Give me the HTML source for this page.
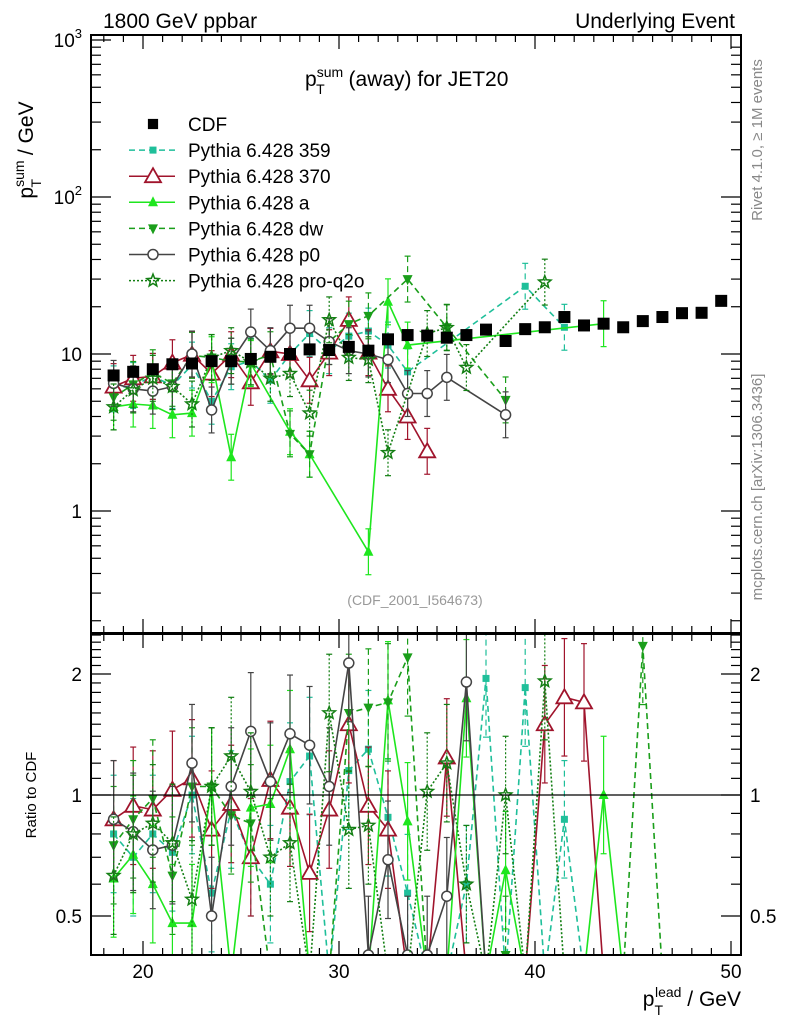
<!DOCTYPE html>
<html><head><meta charset="utf-8">
<style>
html,body{margin:0;padding:0;background:#fff;overflow:hidden;width:786px;height:1024px;}
svg{display:block;font-family:"Liberation Sans",Arial,sans-serif;}
</style></head>
<body>
<svg id="chart" width="786" height="1024" viewBox="0 0 786 1024" xmlns="http://www.w3.org/2000/svg">
<rect x="0" y="0" width="786" height="1024" fill="#fff"/>
<text x="103" y="28" font-size="21">1800 GeV ppbar</text>
<text x="735" y="28" font-size="21" text-anchor="end">Underlying Event</text>
<text x="305" y="86" font-size="21">p<tspan dy="-9" font-size="14">sum</tspan><tspan dx="-27" dy="17" font-size="14">T</tspan><tspan dx="18" dy="-8"> (away) for JET20</tspan></text>
<g transform="translate(33,150) rotate(-90)"><text x="0" y="0" font-size="21" text-anchor="middle">p<tspan dy="-9" font-size="14">sum</tspan><tspan dx="-27" dy="17" font-size="14">T</tspan><tspan dx="18" dy="-8"> / GeV</tspan></text></g>
<g transform="translate(36,795) rotate(-90)"><text x="0" y="0" font-size="15" text-anchor="middle">Ratio to CDF</text></g>
<text x="741" y="1006" font-size="21" text-anchor="end">p<tspan dy="9" font-size="14">T</tspan><tspan dx="-8" dy="-18" font-size="14">lead</tspan><tspan dy="9"> / GeV</tspan></text>
<g transform="translate(762,140) rotate(-90)"><text x="0" y="0" font-size="15" fill="#888" text-anchor="middle">Rivet 4.1.0, ≥ 1M events</text></g>
<g transform="translate(762,487) rotate(-90)"><text x="0" y="0" font-size="15" fill="#888" text-anchor="middle">mcplots.cern.ch [arXiv:1306.3436]</text></g>
<text x="415" y="605" font-size="14" fill="#999" text-anchor="middle">(CDF_2001_I564673)</text>
<defs>
<clipPath id="cm"><rect x="91" y="35" width="650" height="598"/></clipPath>
<clipPath id="cr"><rect x="91" y="634" width="650" height="321"/></clipPath>
</defs>
<g id="main" clip-path="url(#cm)"></g>
<g id="ratio" clip-path="url(#cr)"></g>
<g id="axes"></g>
<g id="legend"></g>
</svg>
<script>
const bins = [18.5,19.5,20.5,21.5,22.5,23.5,24.5,25.5,26.5,27.5,28.5,29.5,30.5,31.5,32.5,33.5,34.5,35.5,36.5,37.5,38.5,39.5,40.5,41.5,42.5,43.5,44.5,45.5,46.5,47.5,48.5,49.5];
const cdf = [7.3,7.7,8.0,8.6,8.7,9.0,9.0,9.3,9.6,10.0,10.7,10.6,11.1,10.5,12.4,13.2,13.1,12.7,13.2,14.3,12.1,14.4,14.8,17.2,15.2,15.6,14.8,16.2,17.2,18.2,18.3,21.8];
const p359 = [6.0,6.3,7.2,6.3,8.5,5.0,8.3,9.0,6.8,10.0,13.5,10.5,13.0,14.0,11.4,7.7,null,null,null,null,null,27,null,14.8];
const p370 = [6.2,7.0,7.2,8.8,9.9,7.5,9.9,6.6,10.4,10.0,6.8,10.2,16.5,10.2,6.0,4.0,2.4];
const pa = [4.6,4.8,4.7,4.1,4.2,9.2,2.2,8.7,null,3.2,2.3,null,null,0.55,21.5,11.4,null,null,null,null,null,null,null,null,null,15.6];
const pdw = [5.3,6.4,7.6,6.5,9.8,9.5,9.0,8.9,9.9,3.1,2.3,12,15.5,17.5,null,30,null,14.8,null,null,5.1];
const pp0 = [6.5,6.0,5.8,6.2,10.0,4.4,9.0,13.8,10.5,14.6,14.6,12.0,10.5,10.0,9.2,5.6,5.6,7.1,null,null,4.1];
const pq2o = [4.6,5.9,7.0,6.2,4.8,9.5,10.5,8.9,7.0,7.5,4.2,16.5,9.5,9.2,2.35,null,13.5,14.7,8.2,null,null,null,28.7];
const r359 = [0.8,0.7,0.8,0.72,1.0,0.57,0.92,0.7,0.6,1.08,1.25,0,1.15,1.3,0.88,0.57,0,0,0.6,1.95,0,1.85,0,0.87,0];
const r370 = [0.87,0.94,0.92,1.03,1.1,0.82,0.95,0.7,1.09,0.93,0.64,0.92,1.5,0.94,0.82,0,0,1.24,0,0,0,0,1.5,1.75,1.7,0];
const ra = [0.62,0.71,0.6,0.48,0.48,1.05,0,0.93,0.95,1.3,0,0,0,0,1.72,0.86,0,0,1.74,0,0.65,0,0,0,0,1.0,0];
const rdw = [0.75,0.87,0.98,0.63,1.05,1.05,0.89,0.85,0,0,0,0,1.6,1.65,1.7,2.2,0,0,0,0,0.4,0,0,0,0,0,0,2.35,0];
const rp0 = [0.87,0.81,0.73,0.75,1.2,0.5,1.05,1.44,1.08,1.42,1.33,1.05,2.13,0.4,0.69,0.4,0.4,0.56,1.91,0];
const rq2o = [0.63,0.8,0.85,0.76,0.55,1.05,1.25,1.02,0.7,0.76,0,1.6,0.82,0.84,0,0,1.02,1.2,0.6,0,1.0,0,1.92,0];
const xTicks = [20,30,40,50];
const yMainTicks = [1,10,100,1000];
const yRatioTicks = [0.5,1,2];

const NS="http://www.w3.org/2000/svg";
const L=91,R=741,T=35,MB=633,RT=634,RB=955;
const X=v=>143+(v-20)*19.6;
const YM=v=>354-157*Math.log10(v/10);
const YR=v=>v<=0?975:Math.min(975,795-121*Math.log2(v));
function mk(tag,attrs,parent){const e=document.createElementNS(NS,tag);for(const k in attrs)e.setAttribute(k,attrs[k]);parent.appendChild(e);return e;}
const gM=document.getElementById('main'),gR=document.getElementById('ratio'),gA=document.getElementById('axes'),gL=document.getElementById('legend');

function marker(kind,x,y,col,p,sc){
  sc=sc||1;let e;
  if(kind==='sq'){e=mk('rect',{x:x-6*sc,y:y-6*sc,width:12*sc,height:12*sc,fill:col},p);}
  else if(kind==='ssq'){e=mk('rect',{x:x-3.5,y:y-3.5,width:7,height:7,fill:col},p);}
  else if(kind==='otri'){e=mk('polygon',{points:`${x},${y-8} ${x-8},${y+6} ${x+8},${y+6}`,fill:'#fff',stroke:col,'stroke-width':1.8},p);}
  else if(kind==='tri'){e=mk('polygon',{points:`${x},${y-6} ${x-5},${y+4} ${x+5},${y+4}`,fill:col},p);}
  else if(kind==='dtri'){e=mk('polygon',{points:`${x},${y+6} ${x-5},${y-4} ${x+5},${y-4}`,fill:col},p);}
  else if(kind==='circ'){e=mk('circle',{cx:x,cy:y,r:5,fill:'#fff',stroke:col,'stroke-width':1.5},p);}
  else if(kind==='star'){let pts=[];for(let i=0;i<10;i++){const r=i%2?2.8:6.5,a=-Math.PI/2+i*Math.PI/5;pts.push((x+r*Math.cos(a)).toFixed(1)+','+(y+r*Math.sin(a)).toFixed(1));}
    e=mk('polygon',{points:pts.join(' '),fill:'none',stroke:col,'stroke-width':1.5},p);}
  return e;
}
function errbar(x,y1,y2,col,dash,p){
  y1=Math.max(0,Math.min(975,y1));y2=Math.max(0,Math.min(975,y2));
  mk('line',{x1:x,x2:x,y1:y1,y2:y2,stroke:col,'stroke-width':1.2,'stroke-dasharray':dash},p);
  mk('line',{x1:x-3,x2:x+3,y1:y1,y2:y1,stroke:col,'stroke-width':1.2},p);
  mk('line',{x1:x-3,x2:x+3,y1:y2,y2:y2,stroke:col,'stroke-width':1.2},p);
}
const series=[
 {name:'pythia-359',label:'Pythia 6.428 359',col:'#1fbf9a',dash:'6,4',m:'ssq',main:p359,ratio:r359},
 {name:'pythia-370',label:'Pythia 6.428 370',col:'#a0142c',dash:'',m:'otri',main:p370,ratio:r370},
 {name:'pythia-a',label:'Pythia 6.428 a',col:'#1ee61e',dash:'',m:'tri',main:pa,ratio:ra},
 {name:'pythia-dw',label:'Pythia 6.428 dw',col:'#1a9e1a',dash:'6,4',m:'dtri',main:pdw,ratio:rdw},
 {name:'pythia-p0',label:'Pythia 6.428 p0',col:'#444',dash:'',m:'circ',main:pp0,ratio:rp0},
 {name:'pythia-pro-q2o',label:'Pythia 6.428 pro-q2o',col:'#137f13',dash:'2,2',m:'star',main:pq2o,ratio:rq2o}
];
series.forEach(s=>{
  const gm=mk('g',{},gM);
  
  
  let d='',first=true;
  s.main.forEach((v,i)=>{if(v==null)return;d+=(first?'M':'L')+X(bins[i]).toFixed(1)+','+YM(v).toFixed(1);first=false;});
  mk('path',{d:d,fill:'none',stroke:s.col,'stroke-width':1.6,'stroke-dasharray':s.dash},gm);
  s.main.forEach((v,i)=>{if(v==null)return;const x=X(bins[i]);
    errbar(x,YM(v*1.4),YM(v/1.4),s.col,s.dash,gm);
    const mm=marker(s.m,x,YM(v),s.col,gm);
    
    });
  const gr=mk('g',{},gR);
  
  
  let rd='';
  s.ratio.forEach((v,i)=>{rd+=(i?'L':'M')+X(bins[i]).toFixed(1)+','+YR(v).toFixed(1);});
  mk('path',{d:rd,fill:'none',stroke:s.col,'stroke-width':1.6,'stroke-dasharray':s.dash},gr);
  s.ratio.forEach((v,i)=>{if(v<=0)return;const x=X(bins[i]);
    errbar(x,YR(v*1.4),YR(v/1.4),s.col,s.dash,gr);
    const mm=marker(s.m,x,YR(v),s.col,gr);
    
    });
});
const gc=mk('g',{},gM);


cdf.forEach((v,i)=>{const m=marker('sq',X(bins[i]),YM(v),'#000',gc);
  
  });
mk('line',{x1:L,x2:R,y1:795,y2:795,stroke:'#000','stroke-width':1.3},gR);

mk('rect',{x:L,y:T,width:R-L,height:MB-T,fill:'none',stroke:'#000','stroke-width':2},gA);
mk('rect',{x:L,y:RT,width:R-L,height:RB-RT,fill:'none',stroke:'#000','stroke-width':2},gA);
for(let v=18;v<=50;v++){const x=X(v);const big=v%10===0,len=big?14:7;
  [[T,1],[MB,-1],[RT,1],[RB,-1]].forEach(([y,s])=>mk('line',{x1:x,x2:x,y1:y,y2:y+s*len,stroke:'#000','stroke-width':1.2},gA));}
xTicks.forEach(v=>{const t=mk('text',{x:X(v),y:978,'font-size':19,'text-anchor':'middle'},gA);t.textContent=v;
  
  });
for(let e=-1;e<3;e++){for(let k=1;k<10;k++){const v=k*Math.pow(10,e),y=YM(v);if(y<T||y>MB)continue;const len=k===1?20:10;
  mk('line',{x1:L,x2:L+len,y1:y,y2:y,stroke:'#000','stroke-width':1.2},gA);
  mk('line',{x1:R,x2:R-len,y1:y,y2:y,stroke:'#000','stroke-width':1.2},gA);}}
mk('line',{x1:L,x2:L+20,y1:YM(1000),y2:YM(1000),stroke:'#000','stroke-width':1.2},gA);
yMainTicks.forEach(v=>{const y=YM(v);const t=mk('text',{x:82,y:y+7,'font-size':19,'text-anchor':'end'},gA);
  
  
  if(v===1)t.textContent='1';else if(v===10)t.textContent='10';
  else{t.textContent='10';const s=document.createElementNS(NS,'tspan');s.setAttribute('dy','-9');s.setAttribute('font-size','13');s.textContent=String(Math.round(Math.log10(v)));t.appendChild(s);}});
const rminor=[0.4,0.5,0.6,0.7,0.8,0.9,1,1.1,1.2,1.3,1.4,1.5,1.6,1.7,1.8,1.9,2,2.1,2.2,2.3,2.4,2.5];
rminor.forEach(v=>{const y=YR(v);const len=(v===0.5||v===1||v===2)?20:10;
  mk('line',{x1:L,x2:L+len,y1:y,y2:y,stroke:'#000','stroke-width':1.2},gA);
  mk('line',{x1:R,x2:R-len,y1:y,y2:y,stroke:'#000','stroke-width':1.2},gA);});
yRatioTicks.forEach(v=>{const y=YR(v);
  const t=mk('text',{x:82,y:y+7,'font-size':19,'text-anchor':'end'},gA);t.textContent=v;
  
  
  const t2=mk('text',{x:750,y:y+7,'font-size':19,'text-anchor':'start'},gA);t2.textContent=v;
  
  });
const lg=[{label:'CDF',col:'#000',dash:'',m:'sq',noline:true,name:'cdf'}].concat(series);
lg.forEach((s,i)=>{const y=124+i*26.1;const g=mk('g',{},gL);
  
  
  if(!s.noline)mk('line',{x1:129,x2:175,y1:y,y2:y,stroke:s.col,'stroke-width':1.5,'stroke-dasharray':s.dash},g);
  marker(s.m,153,y,s.col,g,s.noline?0.85:1);
  const t=mk('text',{x:188,y:y+7,'font-size':19},g);t.textContent=s.label;});
</script>
</body></html>
